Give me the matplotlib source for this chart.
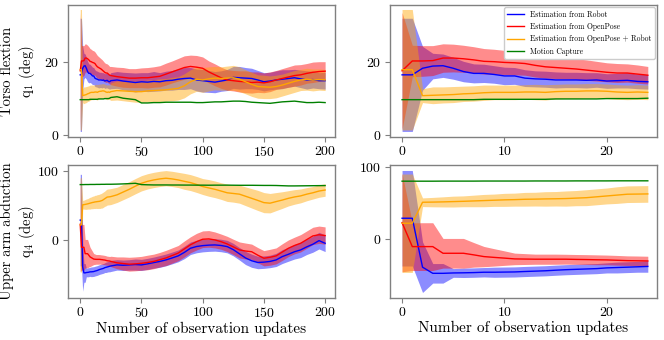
import matplotlib
matplotlib.use("Agg")
import matplotlib.pyplot as plt
import numpy as np

# observation updates: every update up to 24, then every 5th
steps = list(range(25)) + list(range(25, 201, 5))

# q1 - torso flexion (deg)
q1_robot = [16.4, 16.4, 18.2, 18.8, 18.9, 18.2, 17.3, 16.8, 16.8, 16.5, 16.1, 16.1, 15.5,
            15.3, 15.2, 15.0, 15.0, 15.0, 14.9, 15.0, 14.7, 14.8, 14.9, 14.6, 14.5,
            14.8, 15.0, 14.7, 14.5, 14.3, 14.5, 14.4, 14.6, 14.5, 14.8, 14.9, 15.2,
            15.4, 15.5, 15.0, 14.8, 14.6, 14.4, 14.7, 15.0, 15.7, 15.6, 15.5, 15.4,
            15.0, 14.5, 14.7, 15.0, 15.2, 15.4, 15.6, 15.3, 15.0, 15.1, 14.8, 14.8]
q1_robot_std = [15.5, 15.5, 6.0, 3.5, 3.2, 3.0, 2.8, 2.6, 2.5, 2.4, 2.4, 2.3, 2.3,
                2.2, 2.2, 2.2, 2.1, 2.1, 2.1, 2.0, 2.0, 2.0, 2.1, 2.0, 2.0,
                2.2, 2.3, 2.4, 2.5, 2.6, 2.5, 2.6, 2.7, 2.5, 2.6, 2.7, 2.8,
                3.0, 2.9, 3.0, 3.1, 3.0, 2.9, 2.8, 2.9, 3.0, 3.1, 2.9, 2.8,
                2.6, 2.5, 2.4, 2.5, 2.6, 2.4, 2.3, 2.4, 2.5, 2.3, 2.2, 2.3]
q1_op = [17.5, 20.2, 20.2, 20.3, 21.0, 21.0, 20.8, 20.5, 20.1, 20.0, 19.8, 19.7, 19.5,
         19.0, 18.6, 18.4, 18.2, 18.0, 17.7, 17.4, 17.1, 16.9, 16.9, 16.6, 16.3,
         16.2, 15.9, 15.7, 15.5, 15.5, 15.6, 15.6, 15.8, 16.0, 16.6, 17.2, 17.8,
         18.4, 18.7, 18.5, 18.2, 17.2, 16.4, 15.6, 15.0, 14.8, 14.6, 14.5, 14.3,
         14.4, 14.2, 14.5, 15.0, 15.4, 15.8, 16.2, 16.4, 16.8, 17.1, 17.3, 17.4]
q1_op_std = [16.0, 4.3, 4.2, 4.1, 3.9, 3.8, 3.7, 3.6, 3.5, 3.4, 3.3, 3.3, 3.2,
             3.2, 3.1, 3.0, 2.9, 2.8, 2.8, 2.7, 2.6, 2.6, 2.5, 2.5, 2.4,
             2.5, 2.6, 2.7, 2.6, 2.6, 2.7, 2.8, 2.8, 2.9, 3.0, 3.0, 3.1,
             3.2, 3.1, 3.2, 3.1, 3.0, 3.0, 2.9, 2.8, 2.8, 2.9, 3.0, 2.9,
             2.8, 2.7, 2.7, 2.6, 2.7, 2.8, 2.9, 2.8, 2.7, 2.8, 2.7, 2.6]
q1_opr = [17.8, 17.8, 10.7, 10.8, 10.9, 11.0, 11.2, 11.3, 11.5, 11.6, 11.6, 11.6, 11.7,
          11.7, 11.6, 11.8, 11.9, 11.9, 12.0, 12.0, 11.9, 11.7, 11.6, 11.7, 11.6,
          11.8, 12.1, 12.0, 11.9, 11.8, 11.8, 12.0, 12.1, 12.2, 12.3, 12.5, 12.7,
          13.4, 14.5, 15.2, 15.0, 15.3, 15.5, 15.4, 15.5, 15.6, 15.2, 14.5, 13.8,
          13.2, 13.1, 13.0, 13.2, 13.6, 14.1, 14.6, 15.0, 15.2, 15.0, 15.1, 15.0]
q1_opr_std = [16.5, 16.5, 1.9, 2.3, 2.2, 2.2, 2.1, 2.1, 2.1, 2.0, 2.0, 2.0, 2.0,
              2.1, 2.1, 2.0, 2.0, 2.0, 2.0, 2.0, 2.0, 2.0, 2.0, 2.0, 2.0,
              2.4, 2.6, 2.7, 2.8, 2.9, 2.9, 3.0, 3.0, 3.1, 3.1, 3.2, 3.2,
              3.3, 3.3, 3.3, 3.4, 3.3, 3.2, 3.2, 3.3, 3.4, 3.4, 3.3, 3.3,
              3.2, 3.2, 3.1, 3.1, 3.0, 3.0, 3.0, 2.9, 3.0, 3.0, 2.9, 2.9]
q1_mocap = [9.6, 9.6, 9.6, 9.6, 9.6, 9.6, 9.6, 9.6, 9.7, 9.7, 9.7, 9.7, 9.7,
            9.7, 9.7, 9.8, 9.8, 9.8, 9.8, 9.8, 9.9, 9.9, 9.9, 9.9, 10.0,
            10.2, 10.4, 10.0, 9.8, 9.6, 8.7, 8.7, 8.8, 8.8, 8.9, 8.9, 8.9,
            8.9, 8.9, 8.8, 8.8, 8.9, 9.0, 9.0, 9.1, 9.2, 9.2, 9.1, 8.9,
            8.8, 8.7, 8.6, 8.8, 9.0, 9.1, 9.2, 9.0, 8.8, 8.8, 8.9, 8.8]

# q4 - upper arm abduction (deg)
q4_robot = [28.6, 28.6, -39, -47.5, -47.5, -47, -46.8, -46.5, -46, -46, -45.8, -45.6, -45,
            -44.5, -44, -43.2, -42.5, -42, -41.5, -41, -40, -39.5, -39, -38.5, -38,
            -37.5, -36, -36.5, -36, -35.5, -36, -34.5, -32.7, -31, -28.8, -26, -23,
            -18, -12, -9.5, -8.2, -7.5, -7.2, -8, -9.6, -14, -20, -26, -30,
            -32.5, -32, -31, -28.8, -24, -20.7, -17, -14.4, -10, -6.2, -1, -4.8]
q4_robot_std = [66, 66, 35, 13.5, 13.5, 6, 6.5, 6.5, 6.5, 7, 7, 7, 7,
                7, 7, 7, 7, 7, 7, 7, 7, 7.5, 7.5, 7.5, 8,
                8, 7.5, 7.5, 7.5, 8, 8, 8, 8, 8.5, 8.5, 8.5, 8.5,
                9, 9, 9, 9, 9, 9, 9, 9, 9, 9, 9.5, 9.5,
                9, 9, 9, 9.5, 10, 10, 10.5, 11, 11, 11.5, 12, 12]
q4_op = [22.6, -10.6, -10.6, -10.6, -19.8, -19.8, -19.8, -22, -24.4, -25.5, -26.5, -27.6, -27.8,
         -28, -28, -28, -28, -28.3, -28.5, -28.8, -29, -29.5, -30, -30.2, -30.4,
         -31, -33, -34, -35, -34.5, -33.7, -32.5, -31, -28.5, -26, -22.5, -19,
         -13, -7, -2.5, 1, 1.5, 0, -2.5, -5.8, -10, -14.4, -16, -17,
         -22, -26.4, -25, -23, -17.5, -12, -8, -4.8, 0.5, 5.8, 7.5, 6.3]
q4_op_std = [68, 33, 33, 33, 20.5, 20.5, 20.5, 17, 14, 12, 10, 8, 7.5,
             7, 7, 7, 6.8, 6.8, 6.8, 6.8, 6.7, 6.7, 6.6, 6.6, 6.5,
             7.5, 8.5, 9.5, 10, 10, 10, 10.5, 10.5, 10.5, 11, 11, 11,
             11.5, 11.5, 12, 12, 12, 11.5, 11, 11, 11, 11.5, 11.5, 11,
             11, 11, 11.5, 11.5, 12, 12, 12, 12.5, 12.5, 12.5, 12.5, 12.5]
q4_opr = [21.7, 21.7, 50.7, 50.9, 51.2, 51.6, 52, 52.5, 53, 53.5, 54, 54.3, 54.8,
          55, 55.3, 55.5, 55.8, 56.4, 57, 58.2, 59.4, 60.6, 61.8, 62, 62.2,
          62.5, 65, 69, 73, 77.5, 81.7, 84.5, 86.5, 88, 89, 88, 86.5,
          84.5, 82.7, 80, 77, 75, 73, 70.5, 68, 67, 66, 63, 60,
          57, 53.8, 53, 55.3, 57.5, 60, 62, 63.5, 66, 68, 70.5, 72]
q4_opr_std = [68, 68, 6, 6.5, 7, 7.5, 7.5, 8, 8.5, 8.5, 9, 9, 9.5,
              9.5, 10, 10, 10.5, 10.5, 11, 11, 11, 11.5, 11.5, 11.5, 11.5,
              11.5, 11, 11, 11, 11, 11, 11, 11, 11, 11, 11, 11,
              11.5, 11.5, 11.5, 11.5, 12, 12, 12, 12.5, 12.5, 13, 13.5, 14,
              14.5, 14.5, 14, 13, 12, 11, 10.5, 10, 9.5, 9, 9, 9]
q4_mocap = [79.8, 79.8, 79.8, 79.8, 79.9, 79.9, 79.9, 79.9, 80.0, 80.0, 80.0, 80.0, 80.0,
            80.1, 80.1, 80.1, 80.1, 80.2, 80.2, 80.2, 80.2, 80.3, 80.3, 80.3, 80.3,
            80.3, 80.5, 80.8, 81.2, 81.7, 79.8, 79.5, 79.3, 79.3, 79.3, 79.2, 79.2,
            79.1, 79.1, 79.0, 79.0, 78.9, 79.0, 79.0, 79.0, 78.9, 78.8, 78.8, 78.8,
            78.7, 78.6, 78.6, 78.5, 78.2, 77.9, 77.9, 78.0, 78.1, 78.2, 78.3, 78.4]

labels = ["Estimation from Robot", "Estimation from OpenPose",
          "Estimation from OpenPose + Robot", "Motion Capture"]
colors = ["blue", "red", "orange", "green"]

plt.rcParams["font.family"] = "serif"
plt.rcParams["font.serif"] = ["cmr10"]
plt.rcParams["mathtext.fontset"] = "cm"
plt.rcParams["axes.formatter.use_mathtext"] = True
plt.rcParams["axes.unicode_minus"] = False


def draw_joint(ax, n, series, mocap):
    x = np.array(steps[:n])
    for (mean, std), color, label in zip(series, colors, labels):
        m = np.array(mean[:n])
        s = np.array(std[:n])
        ax.fill_between(x, m - s, m + s, color=color, alpha=0.45, linewidth=0)
        ax.plot(x, m, color=color, linewidth=1.0, label=label)
    ax.plot(x, mocap[:n], color=colors[3], linewidth=1.0, label=labels[3])
    for sp in ax.spines.values():
        sp.set_color("#808080")
        sp.set_linewidth(1.0)
    ax.tick_params(color="#808080", labelsize=10, length=3.5, pad=2.5)


fig = plt.figure(figsize=(6.64, 3.4), dpi=100)
ax_tl = fig.add_axes([0.1024, 0.597, 0.402, 0.388])
ax_tr = fig.add_axes([0.587, 0.597, 0.4025, 0.388])
ax_bl = fig.add_axes([0.1024, 0.1244, 0.402, 0.3906])
ax_br = fig.add_axes([0.587, 0.1244, 0.4025, 0.3906])

q1_series = [(q1_robot, q1_robot_std), (q1_op, q1_op_std), (q1_opr, q1_opr_std)]
q4_series = [(q4_robot, q4_robot_std), (q4_op, q4_op_std), (q4_opr, q4_opr_std)]

draw_joint(ax_tl, len(steps), q1_series, q1_mocap)
draw_joint(ax_tr, 25, q1_series, q1_mocap)
draw_joint(ax_bl, len(steps), q4_series, q4_mocap)
draw_joint(ax_br, 25, q4_series, q4_mocap)

for ax in (ax_tl, ax_bl):
    ax.set_xlim(-10, 208)
    ax.set_xticks([0, 50, 100, 150, 200])
for ax in (ax_tr, ax_br):
    ax.set_xlim(-1.2, 24.9)
    ax.set_xticks([0, 10, 20])
for ax in (ax_tl, ax_tr):
    ax.set_ylim(-0.63, 35.5)
    ax.set_yticks([0, 20])
ax_bl.set_ylim(-83.3, 108.2)
ax_br.set_ylim(-81.2, 102.3)
for ax in (ax_bl, ax_br):
    ax.set_yticks([0, 100])
    ax.set_xlabel("Number of observation updates", fontsize=11, labelpad=1)

ax_tl.set_ylabel("Torso flextion\nq$_1$ (deg)", fontsize=10.5)
ax_bl.set_ylabel("Upper arm abduction\nq$_4$ (deg)", fontsize=10.5)
for ax in (ax_tl, ax_bl):
    ax.yaxis.set_label_coords(-0.115, 0.5)

ax_tr.legend(loc="upper right", fontsize=5.5, handlelength=2.2,
             borderaxespad=0.3, framealpha=1.0, edgecolor="#cccccc")

fig.savefig("out.png", dpi=100)
